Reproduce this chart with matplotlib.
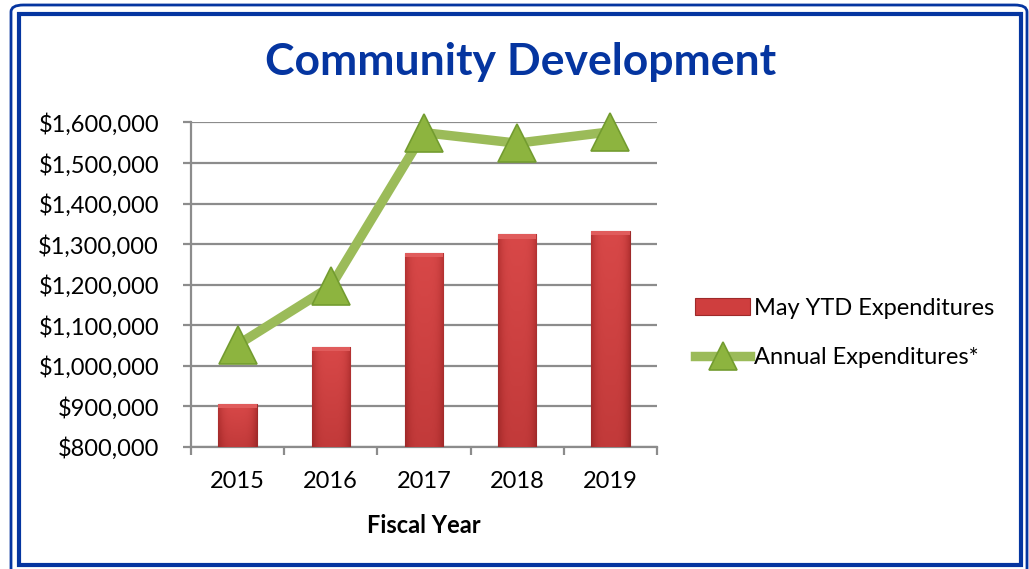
import numpy as np
import matplotlib.pyplot as plt
from matplotlib.patches import FancyBboxPatch, Rectangle
from matplotlib.colors import LinearSegmentedColormap
from matplotlib.ticker import FuncFormatter, FixedLocator

plt.rcParams['font.family'] = ['Lato', 'DejaVu Sans']

years = ["2015", "2016", "2017", "2018", "2019"]
may_ytd = [905000, 1047000, 1279000, 1324000, 1333000]
annual = [1052000, 1196000, 1575000, 1549000, 1577000]

title_blue = "#0535A0"
bar_red = "#CF3E3E"
line_green = "#9BBB59"

fig = plt.figure(figsize=(10.29, 5.69), dpi=100)

# double blue frame around the whole chart
fig.patches.append(FancyBboxPatch((11 / 1029, -10 / 569), 1016 / 1029, 574 / 569,
                                  boxstyle="round,pad=0,rounding_size=0.012",
                                  transform=fig.transFigure, fill=False,
                                  edgecolor=title_blue, linewidth=2.0))
fig.patches.append(Rectangle((19 / 1029, 4 / 569), 1002 / 1029, 551 / 569,
                             transform=fig.transFigure, fill=False,
                             edgecolor=title_blue, linewidth=3.0))

ax = fig.add_axes([191 / 1029, 122 / 569, 466 / 1029, 324.5 / 569])

x = np.arange(len(years))
bars = ax.bar(x, may_ytd, width=0.41, color=bar_red, edgecolor="#9E2A2A",
              linewidth=0.8, zorder=3, label="May YTD Expenditures")

# shaded look on each bar: darker toward the sides and the bottom
cmap = LinearSegmentedColormap.from_list("bevel", ["#D84848", "#B83434", "#972626"])
gx = np.linspace(-1, 1, 64)
gy = np.linspace(0, 1, 128)[:, None]
grad = 0.55 * np.abs(gx) ** 4 + 0.35 * gy
for b in bars:
    x0, y0 = b.get_x(), b.get_y()
    w, h = b.get_width(), b.get_height()
    img = ax.imshow(grad, extent=(x0, x0 + w, 800000, y0 + h), origin="upper",
                    cmap=cmap, vmin=0, vmax=1, aspect="auto", zorder=3.5,
                    interpolation="bilinear")
    img.set_clip_path(b)
    # lighter bevel strip along the top
    ax.add_patch(Rectangle((x0, y0 + h - 10000), w, 10000, facecolor="#E05C5C",
                           edgecolor="none", zorder=3.6, clip_path=b))
ax.set_xlim(-0.5, len(years) - 0.5)
ax.set_ylim(800000, 1600000)

ax.plot(x, annual, color=line_green, linewidth=6.8, marker="^", markersize=28,
        markerfacecolor="#8DB43F", markeredgecolor="#739C30", markeredgewidth=1.2,
        solid_joinstyle="miter", zorder=4, clip_on=False,
        label="Annual Expenditures*")

ax.set_yticks(np.arange(800000, 1600001, 100000))
ax.yaxis.set_major_formatter(FuncFormatter(lambda v, p: f"${v:,.0f}"))
ax.grid(axis="y", color="#8C8C8C", linewidth=1.6, zorder=1)
ax.set_axisbelow(True)

ax.set_xticks(x)
ax.set_xticklabels(years)
ax.xaxis.set_minor_locator(FixedLocator(np.arange(-0.5, len(years), 1.0)))
ax.tick_params(axis="x", which="major", length=0, pad=17, labelsize=17)
ax.tick_params(axis="x", which="minor", length=6, width=1.6, color="#8C8C8C")
ax.tick_params(axis="y", length=6, width=1.6, color="#8C8C8C", pad=17, labelsize=17)

for s in ["top", "right"]:
    ax.spines[s].set_visible(False)
for s in ["left", "bottom"]:
    ax.spines[s].set_color("#8C8C8C")
    ax.spines[s].set_linewidth(1.6)

ax.set_xlabel("Fiscal Year", fontsize=17, fontweight="bold", labelpad=16)

fig.text(521 / 1029, 1 - 62 / 569, "Community Development", ha="center", va="center",
         fontsize=32, fontweight="bold", color=title_blue)

handles, labels = ax.get_legend_handles_labels()
order = [labels.index("May YTD Expenditures"), labels.index("Annual Expenditures*")]
ax.legend([handles[i] for i in order], [labels[i] for i in order],
          loc="center left", bbox_to_anchor=(695 / 1029, 1 - 333 / 569),
          bbox_transform=fig.transFigure, frameon=False, fontsize=17,
          borderpad=0, borderaxespad=0,
          handlelength=2.35, handleheight=0.7, handletextpad=0.15, labelspacing=1.2,
          numpoints=1, markerscale=0.72)

fig.savefig("out.png", dpi=100)
